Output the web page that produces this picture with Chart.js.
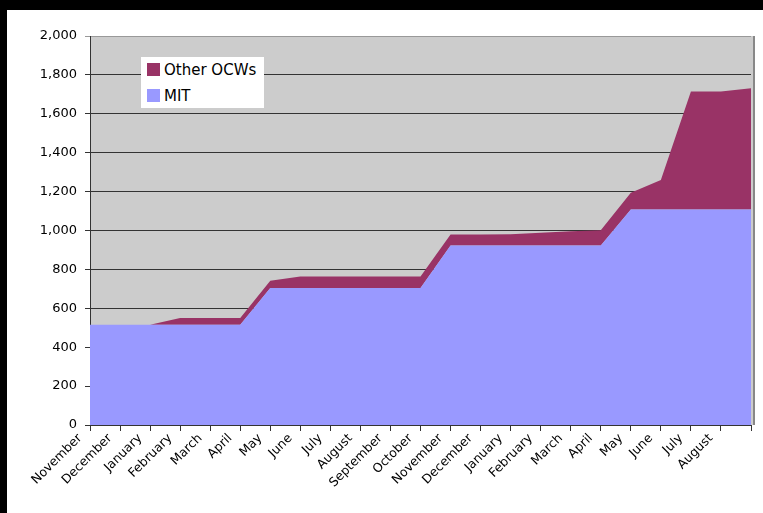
<!DOCTYPE html>
<html>
<head>
<meta charset="utf-8">
<script src="https://cdn.jsdelivr.net/npm/chart.js@4"></script>
<style>
  html, body { margin: 0; padding: 0; background: #fff; }
  #wrap { position: relative; width: 763px; height: 513px; overflow: hidden; }
  #barTop { position: absolute; left: 0; top: 0; width: 763px; height: 10px; background: #000; }
  #barLeft { position: absolute; left: 0; top: 0; width: 7px; height: 513px; background: #000; }
  #myChart { position: absolute; left: 0; top: 0; }
  #legend { position: absolute; left: 141px; top: 57px; width: 123px; height: 51px; background: #fff;
            font-family: "DejaVu Sans", sans-serif; font-size: 15px; color: #000; }
  #legend .item { position: absolute; left: 6px; height: 14px; line-height: 14px; white-space: nowrap; }
  #legend .sw { display: inline-block; width: 13px; height: 13px; vertical-align: top; margin-right: 4px; }
</style>
</head>
<body>
<div id="wrap">
  <div id="barTop"></div>
  <div id="barLeft"></div>
  <canvas id="myChart" width="763" height="513"></canvas>
  <div id="legend">
    <div class="item" style="top:6px"><span class="sw" style="background:#993366"></span>Other OCWs</div>
    <div class="item" style="top:32px"><span class="sw" style="background:#9999FF"></span>MIT</div>
  </div>
</div>
<script>
// month labels (last tick has no label)
var months = ['November', 'December', 'January', 'February', 'March', 'April', 'May', 'June',
    'July', 'August', 'September', 'October', 'November', 'December', 'January', 'February',
    'March', 'April', 'May', 'June', 'July', 'August', ''];

var mitValues = [515, 515, 515, 515, 515, 515, 704, 704, 704, 704, 704, 704,
    923, 923, 923, 923, 923, 923, 1108, 1108, 1108, 1108, 1108];

var otherValues = [0, 0, 0, 35, 35, 35, 38, 60, 60, 60, 60, 60,
    56, 56, 58, 66, 73, 78, 86, 151, 607, 607, 624];

var yTicks = { min: 0, max: 2000, step: 200 };

// grey plot area + border
var plotArea = {
    id: 'plotArea',
    beforeDraw: function (chart) {
        var a = chart.chartArea, ctx = chart.ctx;
        ctx.save();
        ctx.fillStyle = '#CCCCCC';
        ctx.fillRect(a.left, a.top, a.right - a.left + 3, a.bottom - a.top);
        ctx.restore();
    },
    afterDatasetsDraw: function (chart) {
        var a = chart.chartArea, ctx = chart.ctx;
        ctx.save();
        ctx.strokeStyle = '#888888';
        ctx.lineWidth = 2;
        ctx.beginPath();
        ctx.moveTo(a.right + 3, a.top);
        ctx.lineTo(a.right + 3, a.bottom);
        ctx.stroke();
        ctx.restore();
    }
};

var area = document.getElementById('myChart');

new Chart(area, {
    type: 'line',
    data: {
        labels: months,
        datasets: [{
            label: 'MIT',
            data: mitValues,
            backgroundColor: '#9999FF',
            borderWidth: 0,
            pointRadius: 0,
            fill: 'origin'
        }, {
            label: 'Other OCWs',
            data: otherValues,
            backgroundColor: '#993366',
            borderWidth: 0,
            pointRadius: 0,
            fill: '-1'
        }]
    },
    plugins: [plotArea],
    options: {
        responsive: false,
        animation: false,
        layout: { padding: { top: 36, right: 12, bottom: 0, left: 0 } },
        plugins: {
            legend: { display: false },
            tooltip: { enabled: false }
        },
        elements: { line: { tension: 0 } },
        scales: {
            x: {
                offset: false,
                grid: { drawOnChartArea: false, color: '#333', tickLength: 6 },
                border: { color: '#333', width: 1 },
                ticks: {
                    autoSkip: false,
                    minRotation: 45,
                    maxRotation: 45,
                    labelOffset: -10,
                    padding: 0,
                    color: '#000',
                    font: { family: 'DejaVu Sans', size: 12.5 }
                },
                afterFit: function (s) {
                    s.height = 88;
                    s.paddingLeft = 0;
                    s.paddingRight = 0;
                }
            },
            y: {
                stacked: true,
                min: yTicks.min,
                max: yTicks.max,
                grid: {
                    color: function (c) { return c.tick && c.tick.value === yTicks.max ? '#999' : '#333'; },
                    tickLength: 5
                },
                border: { color: '#333', width: 1 },
                ticks: {
                    stepSize: yTicks.step,
                    padding: 8,
                    color: '#000',
                    font: { family: 'DejaVu Sans', size: 13 },
                    callback: function (v) { return v.toLocaleString('en-US'); }
                },
                afterFit: function (s) { s.width = 90; }
            }
        }
    }
});
</script>
</body>
</html>
